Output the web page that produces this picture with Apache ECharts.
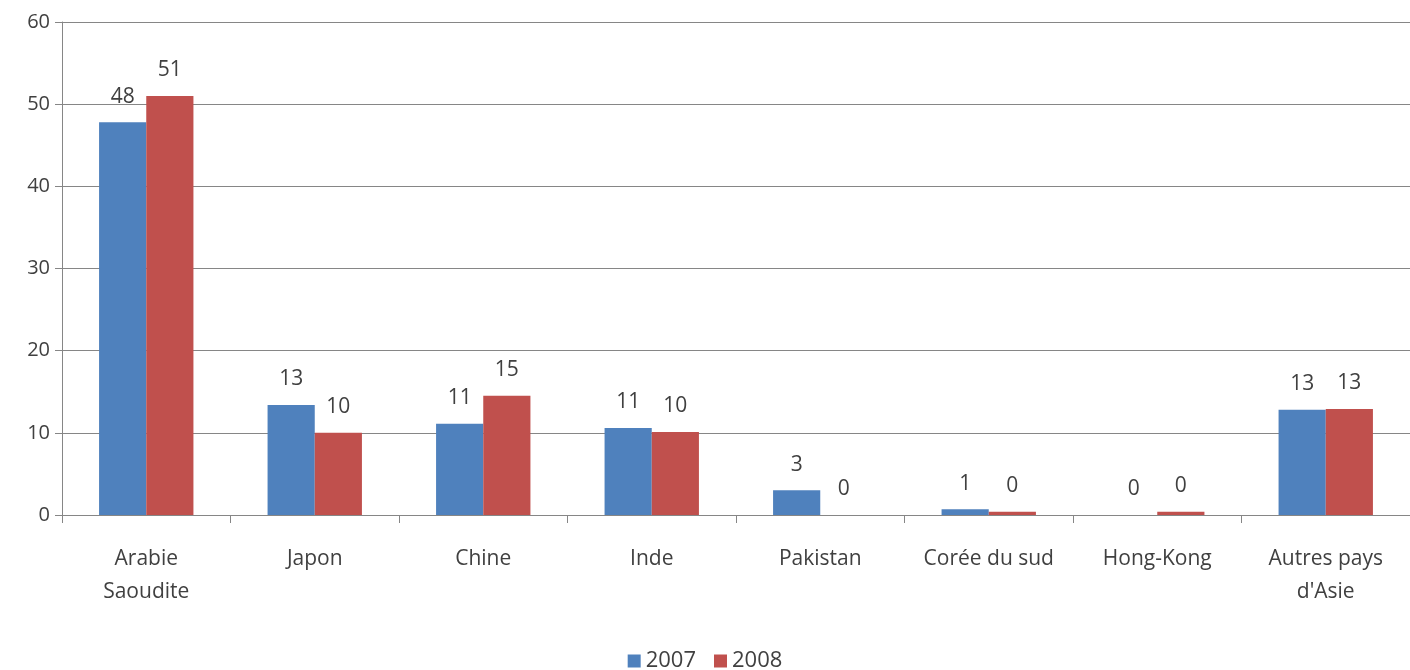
<!DOCTYPE html>
<html><head><meta charset="utf-8">
<script src="https://cdn.jsdelivr.net/npm/echarts@6/dist/echarts.min.js"></script>
<style>html,body{margin:0;padding:0;background:#fff}#c{width:1410px;height:670px}</style>
</head><body><div id="c"></div>
<script>
const categories = ["Arabie\nSaoudite","Japon","Chine","Inde","Pakistan","Corée du sud","Hong-Kong","Autres pays\nd'Asie"];
const values2007 = [47.8, 13.4, 11.1, 10.6, 3.0, 0.7, 0, 12.8];
const values2008 = [51.0, 10.0, 14.5, 10.1, 0, 0.4, 0.4, 12.9];
const seriesNames = ["2007","2008"];
const yTicks = {min:0, max:60, interval:10};

const font = "'Open Sans', 'Liberation Sans', sans-serif";
const labelCfg = {show:true, position:'top', distance:15, color:'#404040', fontSize:21, fontFamily:font,
  formatter: p => Math.round(p.value)};
const chart = echarts.init(document.getElementById('c'));
chart.setOption({
  animation:false,
  grid:{left:62, right:0, top:22, bottom:155},
  legend:{top:645, left:'center', itemWidth:13, itemHeight:13, itemGap:18, icon:'rect',
    textStyle:{fontSize:22, color:'#404040', fontFamily:font}, data:seriesNames},
  xAxis:{type:'category', data:categories,
    axisLine:{lineStyle:{color:'#868686'}},
    axisTick:{show:true, length:8, lineStyle:{color:'#868686'}},
    axisLabel:{fontSize:21, color:'#404040', fontFamily:font, lineHeight:33, margin:28, interval:0}},
  yAxis:{type:'value', min:yTicks.min, max:yTicks.max, interval:yTicks.interval,
    axisLine:{show:true, lineStyle:{color:'#868686'}},
    axisTick:{show:true, length:7, lineStyle:{color:'#868686'}},
    splitLine:{lineStyle:{color:'#868686'}},
    axisLabel:{fontSize:20, color:'#404040', fontFamily:font, margin:12}},
  series:[
    {name:seriesNames[0], type:'bar', data:values2007, barGap:'0%', barCategoryGap:'44%',
     itemStyle:{color:'#4F81BD'}, label:labelCfg},
    {name:seriesNames[1], type:'bar', data:values2008, barGap:'0%', barCategoryGap:'44%',
     itemStyle:{color:'#C0504D'}, label:labelCfg}
  ]
});
</script></body></html>
